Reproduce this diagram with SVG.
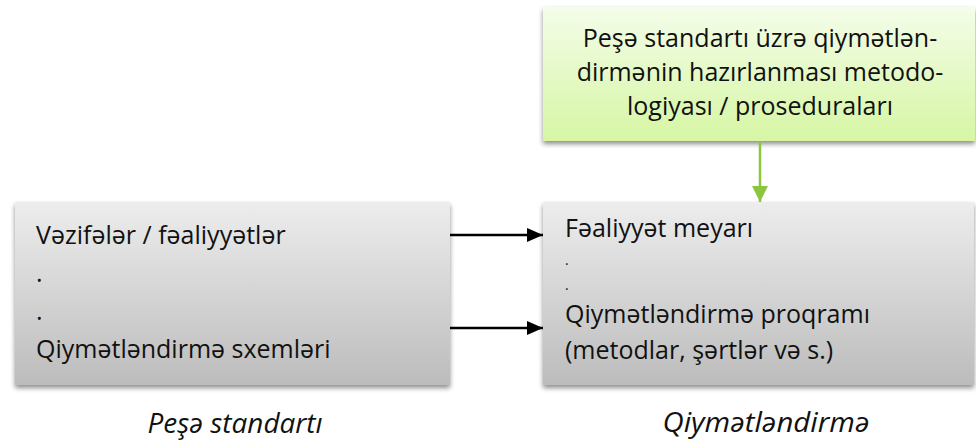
<svg xmlns="http://www.w3.org/2000/svg" width="976" height="443" viewBox="0 0 976 443">
  <defs>
    <linearGradient id="gray" x1="0" y1="0" x2="0" y2="1">
      <stop offset="0" stop-color="#ededed"/>
      <stop offset="1" stop-color="#bcbcbc"/>
    </linearGradient>
    <linearGradient id="green" x1="0" y1="0" x2="0" y2="1">
      <stop offset="0" stop-color="#f4fde9"/>
      <stop offset="1" stop-color="#d6f6a4"/>
    </linearGradient>
    <filter id="shadow" x="-5%" y="-5%" width="110%" height="115%">
      <feGaussianBlur in="SourceAlpha" stdDeviation="2.5"/>
      <feOffset dx="0" dy="3" result="b"/>
      <feComponentTransfer><feFuncA type="linear" slope="0.45"/></feComponentTransfer>
      <feMerge><feMergeNode/><feMergeNode in="SourceGraphic"/></feMerge>
    </filter>
    <marker id="ah" viewBox="0 0 16 14" refX="16" refY="7" markerWidth="16" markerHeight="14" markerUnits="userSpaceOnUse" orient="auto">
      <path d="M0,0 L16,7 L0,14 Z" fill="#000"/>
    </marker>
    <marker id="ahg" viewBox="0 0 16 16" refX="16" refY="8" markerWidth="16" markerHeight="16" markerUnits="userSpaceOnUse" orient="auto">
      <path d="M0,0 L16,8 L0,16 Z" fill="#8cc63e"/>
    </marker>
  </defs>
  <style>
    text { font-family: "Open Sans", "Noto Sans", "DejaVu Sans", sans-serif; fill: #111; }
    .t { font-size: 25px; }
    .ds { font-size: 14px; }
    .c { text-anchor: middle; }
    .lbl { font-size: 27px; font-style: italic; text-anchor: middle; }
  </style>

  <rect width="976" height="443" fill="#fff"/>

  <g id="node-method">
    <rect x="543" y="7" width="432" height="134" fill="url(#green)" filter="url(#shadow)"/>
    <text class="t c" x="760" y="47">Peşə standartı üzrə qiymətlən-</text>
    <text class="t c" x="760" y="81">dirmənin hazırlanması metodo-</text>
    <text class="t c" x="760" y="115">logiyası / proseduraları</text>
  </g>

  <g id="node-standard">
    <rect x="15" y="202" width="435" height="183" fill="url(#gray)" filter="url(#shadow)"/>
    <text class="t" x="36" y="244">Vəzifələr / fəaliyyətlər</text>
    <text class="t" x="36" y="282">.</text>
    <text class="t" x="36" y="320">.</text>
    <text class="t" x="36" y="358">Qiymətləndirmə sxemləri</text>
  </g>

  <g id="node-assessment">
    <rect x="543" y="202" width="431" height="183" fill="url(#gray)" filter="url(#shadow)"/>
    <text class="t" x="565" y="237">Fəaliyyət meyarı</text>
    <text class="ds" x="565" y="265">.</text>
    <text class="ds" x="565" y="290">.</text>
    <text class="t" x="565" y="323">Qiymətləndirmə proqramı</text>
    <text class="t" x="565" y="359">(metodlar, şərtlər və s.)</text>
  </g>

  <g id="label-standard">
    <text class="lbl" x="235" y="433" textLength="175" lengthAdjust="spacingAndGlyphs">Peşə standartı</text>
  </g>
  <g id="label-assessment">
    <text class="lbl" x="766" y="432" textLength="207" lengthAdjust="spacingAndGlyphs">Qiymətləndirmə</text>
  </g>

  <g id="connectors">
    <line x1="450" y1="235" x2="543" y2="235" stroke="#000" stroke-width="2.5" marker-end="url(#ah)"/>
    <line x1="450" y1="328" x2="543" y2="328" stroke="#000" stroke-width="2.5" marker-end="url(#ah)"/>
    <line x1="760" y1="141" x2="760" y2="202" stroke="#8cc63e" stroke-width="2.5" marker-end="url(#ahg)"/>
  </g>
</svg>
